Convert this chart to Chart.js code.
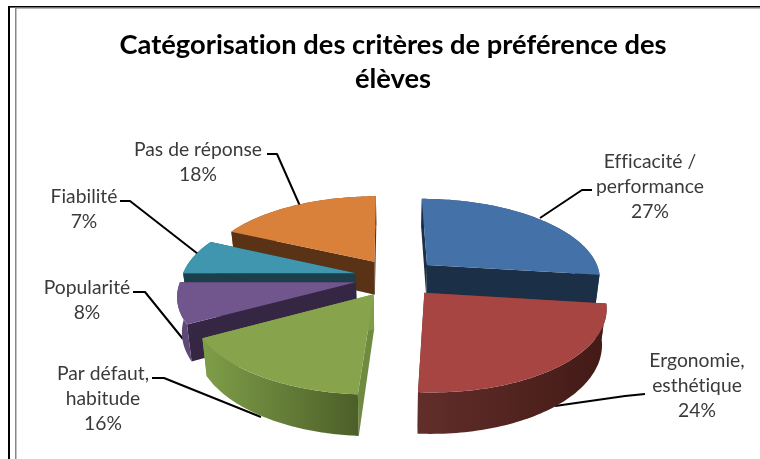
<!DOCTYPE html>
<html>
<head>
<meta charset="utf-8">
<style>html,body{margin:0;padding:0;background:#fff}#w{width:760px;height:459px;position:relative}</style>
<script src="https://cdn.jsdelivr.net/npm/chart.js@4"></script>
</head>
<body>
<div id="w"><canvas id="c" width="760" height="459"></canvas></div>
<script>
const titleLines = ["Catégorisation des critères de préférence des", "élèves"];
const categories = [["Efficacité /", "performance"], ["Ergonomie,", "esthétique"], ["Par défaut,", "habitude"], ["Popularité"], ["Fiabilité"], ["Pas de réponse"]];
const values = [27, 24, 16, 8, 7, 18];
const topColors = ["#4472A8", "#A64542", "#87A44D", "#70568D", "#4096AE", "#D9803A"];
const startFaceColors = ["#1B2F47", "#622E2A", "#6E8B40", "#352644", "#1B3F4B", "#5A3317"];
const endFaceColors = ["#1B2F47", "#622E2A", "#7F9E49", "#352644", "#1B3F4B", "#5A3317"];
const wallLeftColors = ["#2A4A70", "#622E2A", "#7F9E49", "#5E4878", "#2B6B7D", "#8A5526"];
const wallRightColors = ["#2A4A70", "#431A16", "#4C5F28", "#5E4878", "#2B6B7D", "#8A5526"];

// Label placement and leader routes (page furniture, not data)
const labelCenters = [[650, 162], [697, 361], [103, 374], [87, 288], [84, 197], [198, 150]];
const leaders = [
  [[592, 190], [582, 190], [540, 218]],
  [[645, 394], [625, 396], [555, 406]],
  [[152, 378], [164, 378], [261, 417]],
  [[133, 292], [145, 292], [183, 339]],
  [[120, 201], [130, 201], [198, 254]],
  [[267, 154], [277, 154], [300, 206]]
];

// Oblique view of the pie: centre, tilt, perspective, thickness
const CX = 396.5, CY = 277.4, TILT = 0.4576, PERSP = 0.000869, THICK = 34, BASE_SHRINK = 0.978, VANISH = -10;
function project(u, v, bottom) {
  const s = 1 / (1 - PERSP * v), q = bottom ? BASE_SHRINK : 1;
  return [CX + u * s * q + VANISH * (1 - s), CY + (TILT * v + (bottom ? THICK : 0)) * s];
}

const pie3d = {
  id: 'pie3d',
  beforeDraw(chart) {
    const ctx = chart.ctx;
    ctx.letterSpacing = '0.01px';
    ctx.save();
    ctx.fillStyle = '#000';
    ctx.fillRect(8, 6, 752, 1.6);
    ctx.fillRect(8, 6, 2, 453);
    ctx.fillStyle = '#888';
    ctx.fillRect(15, 7.6, 745, 1);
    ctx.fillRect(15, 7.6, 1.5, 452);
    ctx.restore();
  },
  beforeDatasetDraw(chart, args) {
    const ctx = chart.ctx;
    const arcs = chart.getDatasetMeta(args.index).data;
    ctx.save();
    ctx.strokeStyle = '#000';
    ctx.lineWidth = 2;
    ctx.lineJoin = 'round';
    leaders.forEach(l => {
      ctx.beginPath();
      l.forEach((p, i) => i ? ctx.lineTo(p[0], p[1]) : ctx.moveTo(p[0], p[1]));
      ctx.stroke();
    });
    const apexV = a => { const m = (a.startAngle + a.endAngle) / 2; return Math.sin(m); };
    const order = arcs.map((a, i) => i).sort((i, j) => apexV(arcs[i]) - apexV(arcs[j]));
    const poly = pts => {
      ctx.beginPath();
      pts.forEach((p, i) => i ? ctx.lineTo(p[0], p[1]) : ctx.moveTo(p[0], p[1]));
      ctx.closePath();
    };
    order.forEach(i => {
      const a = arcs[i], a0 = a.startAngle, a1 = a.endAngle, R = a.outerRadius, off = a.options.offset;
      const mid = (a0 + a1) / 2, ou = off * Math.cos(mid), ov = off * Math.sin(mid);
      const rim = bottom => {
        const out = [];
        for (let k = 0; k <= 72; k++) {
          const t = a0 + (a1 - a0) * k / 72;
          out.push(project(ou + R * Math.cos(t), ov + R * Math.sin(t), bottom));
        }
        return out;
      };
      const top = rim(false), base = rim(true);
      const at = project(ou, ov, false), ab = project(ou, ov, true);
      const xs = top.map(p => p[0]);
      const g = ctx.createLinearGradient(Math.min(...xs), 0, Math.max(...xs), 0);
      g.addColorStop(0, wallLeftColors[i]);
      g.addColorStop(1, wallRightColors[i]);
      ctx.fillStyle = startFaceColors[i];
      poly([at, top[0], base[0], ab]); ctx.fill();
      ctx.fillStyle = endFaceColors[i];
      poly([at, top[72], base[72], ab]); ctx.fill();
      ctx.fillStyle = g;
      if (Math.sin(mid) > 0.2) { poly(top.concat(base.slice().reverse())); ctx.fill(); }
      else {
        ctx.save();
        poly(top.concat(base.slice().reverse())); ctx.clip();
        ctx.globalCompositeOperation = 'destination-over';
        ctx.fillRect(0, 0, 760, 459);
        ctx.restore();
      }
      ctx.fillStyle = a.options.backgroundColor;
      poly([at].concat(top)); ctx.fill();
    });
    ctx.restore();
    return false;
  },
  afterDraw(chart) {
    const ctx = chart.ctx;
    ctx.save();
    ctx.font = '19.3px Lato';
    ctx.fillStyle = '#3a3a3a';
    ctx.textAlign = 'center';
    ctx.textBaseline = 'middle';
    const total = values.reduce((s, v) => s + v, 0);
    categories.forEach((lines, i) => {
      const all = lines.concat([Math.round(values[i] / total * 100) + '%']);
      all.forEach((t, j) => ctx.fillText(t, labelCenters[i][0], labelCenters[i][1] + j * 25));
    });
    ctx.restore();
  }
};

new Chart(document.getElementById('c'), {
  type: 'pie',
  data: {
    labels: categories.map(c => c.join(' ')),
    datasets: [{ data: values, backgroundColor: topColors, borderWidth: 0, offset: 42 }]
  },
  options: {
    responsive: false,
    animation: false,
    radius: 174,
    layout: { padding: { left: 26 } },
    plugins: {
      legend: { display: false },
      tooltip: { enabled: false },
      title: {
        display: true,
        text: titleLines,
        color: '#000',
        font: { family: 'Lato', size: 27.3, weight: 'bold', lineHeight: 1.26 },
        padding: { top: 28, bottom: 0 }
      }
    }
  },
  plugins: [pie3d]
});
</script>
</body>
</html>
